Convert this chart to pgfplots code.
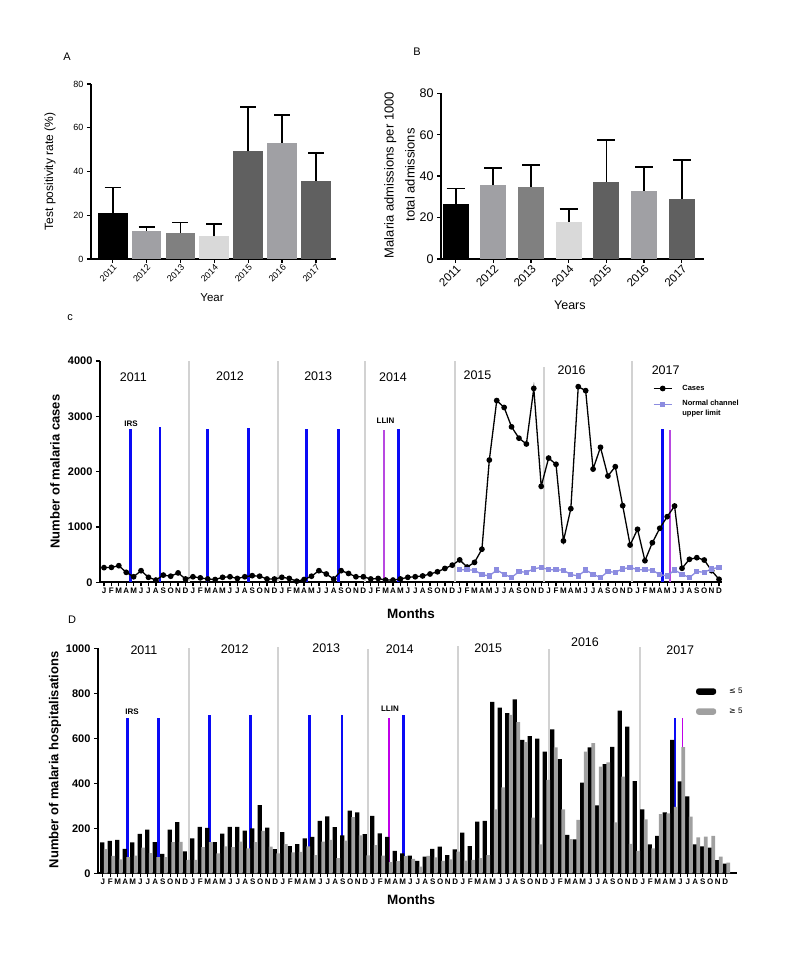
\documentclass[border=0pt]{standalone}
\usepackage{fontspec}
\setmainfont{Liberation Sans}
\newfontfamily\djv{DejaVu Sans}
\usepackage{pgfplots}
\pgfplotsset{compat=1.18}

\definecolor{gA}{HTML}{A0A0A4}
\definecolor{gB}{HTML}{808080}
\definecolor{gC}{HTML}{D9D9D9}
\definecolor{gD}{HTML}{606060}
\definecolor{sep}{HTML}{D2D2D2}
\definecolor{irs}{HTML}{0A0AF5}
\definecolor{llin}{HTML}{B848E0}
\definecolor{llinD}{HTML}{C000E8}
\definecolor{lav}{HTML}{8C8CE0}
\definecolor{hg}{HTML}{A0A0A0}

\pgfplotsset{
  gp/.style={
    scale only axis,
    anchor=south west,
    axis x line*=bottom, axis y line*=left,
    axis line style={line width=1.8pt, black},
    tick align=outside,
    major tick length=4pt,
    tick style={black, line width=1.3pt},
    /pgf/number format/assume math mode=true,
    /pgf/number format/1000 sep={},
    clip=false,
  },
  eb/.style={error bars/.cd, y dir=plus, y explicit,
    error bar style={line width=1.8pt, black},
    error mark options={rotate=90, mark size=#1, line width=1.8pt, black}},
  vbar/.style={ybar, bar shift=0pt, draw=none, fill=#1},
  sepl/.style={forget plot, sep, line width=1.8pt},
  irsl/.style={forget plot, irs, line width=2.8pt},
  llinl/.style={forget plot, llin, line width=1.8pt},
  lineleg/.style={legend image code/.code={\draw[mark repeat=2,mark phase=2,##1] plot coordinates {(0pt,0pt) (9pt,0pt) (18pt,0pt)}; \path (26pt,0pt);}},
}

\begin{document}
\begin{tikzpicture}
\path[use as bounding box] (0pt,0pt) rectangle (800pt,954pt);

\node[font=\fontsize{11}{12}\selectfont] at (67pt,897pt) {A};
\node[font=\fontsize{11}{12}\selectfont] at (417pt,902pt) {B};
\node[font=\fontsize{11}{12}\selectfont] at (70pt,636pt) {c};
\node[font=\fontsize{11}{12}\selectfont] at (72pt,334pt) {D};

% ---------------- Panel A
\begin{axis}[gp, at={(91pt,695pt)}, width=245pt, height=175pt,
  xmin=-0.64, xmax=6.59, ymin=0, ymax=80, ytick={0,20,40,60,80},
  xtick={0,...,6}, xticklabels={2011,2012,2013,2014,2015,2016,2017},
  xticklabel style={rotate=45, anchor=north east, font=\fontsize{9}{10}\selectfont, inner sep=0.5pt},
  yticklabel style={font=\fontsize{9}{10}\selectfont},
  ylabel={Test positivity rate (\%)},
  ylabel style={at={(axis description cs:-0.167,0.5)}, anchor=center, font=\fontsize{12}{13}\selectfont},
  xlabel={Year},
  xlabel style={at={(axis description cs:0.494,-0.223)}, anchor=center, font=\fontsize{11.5}{12}\selectfont},
  bar width=0.88]
\addplot[vbar=black, eb=8pt] coordinates {(0,20.8) +- (0,11.9)};
\addplot[vbar=gA, eb=8pt] coordinates {(1,12.8) +- (0,1.7)};
\addplot[vbar=gB, eb=8pt] coordinates {(2,11.8) +- (0,4.9)};
\addplot[vbar=gC, eb=8pt] coordinates {(3,10.3) +- (0,5.7)};
\addplot[vbar=gD, eb=8pt] coordinates {(4,49.2) +- (0,20.4)};
\addplot[vbar=gA, eb=8pt] coordinates {(5,53.1) +- (0,12.7)};
\addplot[vbar=gD, eb=8pt] coordinates {(6,35.7) +- (0,12.7)};
\end{axis}

% ---------------- Panel B
\begin{axis}[gp, at={(441pt,695pt)}, width=263pt, height=165.7pt,
  xmin=-0.39, xmax=6.59, ymin=0, ymax=80, ytick={0,20,40,60,80},
  xtick={0,...,6}, xticklabels={2011,2012,2013,2014,2015,2016,2017},
  xticklabel style={rotate=45, anchor=north east, font=\fontsize{11.5}{12}\selectfont, inner sep=0.5pt},
  yticklabel style={font=\fontsize{12.5}{13}\selectfont},
  ylabel={Malaria admissions per 1000\\total admissions},
  ylabel style={at={(axis description cs:-0.158,0.507)}, anchor=center, align=center, font=\fontsize{13}{21}\selectfont},
  xlabel={Years},
  xlabel style={at={(axis description cs:0.49,-0.278)}, anchor=center, font=\fontsize{12.5}{13}\selectfont},
  bar width=0.69]
\addplot[vbar=black, eb=9pt] coordinates {(0,26.7) +- (0,7.3)};
\addplot[vbar=gA, eb=9pt] coordinates {(1,35.6) +- (0,8.5)};
\addplot[vbar=gB, eb=9pt] coordinates {(2,34.9) +- (0,10.3)};
\addplot[vbar=gC, eb=9pt] coordinates {(3,18.0) +- (0,6.0)};
\addplot[vbar=gD, eb=9pt] coordinates {(4,37.2) +- (0,20.3)};
\addplot[vbar=gA, eb=9pt] coordinates {(5,33.0) +- (0,11.4)};
\addplot[vbar=gD, eb=9pt] coordinates {(6,29.1) +- (0,18.6)};
\end{axis}

% ---------------- Panel C
\begin{axis}[gp, at={(100pt,371.7pt)}, width=622pt, height=221.3pt,
  xmin=-0.54, xmax=83.4, ymin=0, ymax=4000, ytick={0,1000,2000,3000,4000},
  xtick={0,...,83},
  xticklabels={J,F,M,A,M,J,J,A,S,O,N,D,J,F,M,A,M,J,J,A,S,O,N,D,J,F,M,A,M,J,J,A,S,O,N,D,J,F,M,A,M,J,J,A,S,O,N,D,J,F,M,A,M,J,J,A,S,O,N,D,J,F,M,A,M,J,J,A,S,O,N,D,J,F,M,A,M,J,J,A,S,O,N,D},
  xticklabel style={font=\bfseries\fontsize{8}{9}\selectfont, inner sep=0.3pt, yshift=-1pt},
  yticklabel style={font=\bfseries\fontsize{11}{12}\selectfont},
  ylabel={\bfseries Number of malaria cases},
  ylabel style={at={(axis description cs:-0.0723,0.5)}, anchor=center, font=\fontsize{13}{14}\selectfont},
  xlabel={\bfseries Months},
  xlabel style={at={(axis description cs:0.5,-0.143)}, anchor=center, font=\fontsize{13.5}{14}\selectfont},
  legend style={draw=none, fill=none, at={(axis description cs:0.884,0.91)}, anchor=north west,
    font=\bfseries\fontsize{7.5}{10.5}\selectfont, row sep=2pt},
  legend cell align=left]
\addplot[sepl] coordinates {(11.5,0) (11.5,4000)};
\addplot[sepl] coordinates {(23.5,0) (23.5,4000)};
\addplot[sepl] coordinates {(35.2,0) (35.2,4000)};
\addplot[sepl] coordinates {(47.4,0) (47.4,4000)};
\addplot[sepl] coordinates {(59.4,0) (59.4,3900)};
\addplot[sepl] coordinates {(71.3,0) (71.3,4000)};
\addplot[irsl] coordinates {(3.6,0) (3.6,2770)};
\addplot[irsl] coordinates {(7.56,0) (7.56,2800)};
\addplot[irsl] coordinates {(14,0) (14,2770)};
\addplot[irsl] coordinates {(19.5,0) (19.5,2780)};
\addplot[irsl] coordinates {(27.35,0) (27.35,2770)};
\addplot[irsl] coordinates {(31.6,0) (31.6,2770)};
\addplot[llinl] coordinates {(37.8,0) (37.8,2745)};
\addplot[irsl] coordinates {(39.7,0) (39.7,2770)};
\addplot[irsl] coordinates {(75.4,0) (75.4,2765)};
\addplot[llinl] coordinates {(76.4,0) (76.4,2745)};
\addplot[black, line width=1.3pt, mark=*, mark size=2.2pt, lineleg] coordinates {
(0,265)(1,270)(2,300)(3,180)(4,100)(5,210)(6,90)(7,40)(8,130)(9,110)(10,170)(11,60)
(12,100)(13,80)(14,60)(15,50)(16,90)(17,100)(18,70)(19,100)(20,120)(21,110)(22,60)(23,60)
(24,90)(25,70)(26,20)(27,50)(28,110)(29,210)(30,150)(31,60)(32,210)(33,160)(34,100)(35,100)
(36,60)(37,70)(38,40)(39,40)(40,60)(41,90)(42,100)(43,115)(44,150)(45,190)(46,250)(47,310)
(48,405)(49,275)(50,360)(51,598)(52,2210)(53,3285)(54,3160)(55,2810)(56,2605)(57,2500)(58,3505)(59,1735)
(60,2245)(61,2133)(62,748)(63,1331)(64,3536)(65,3464)(66,2047)(67,2440)(68,1921)(69,2090)(70,1385)(71,674)
(72,958)(73,390)(74,716)(75,976)(76,1186)(77,1379)(78,253)(79,415)(80,445)(81,403)(82,210)(83,54)};
\addlegendentry{Cases}
\addplot[lav, line width=1.3pt, mark=square*, mark size=2pt, lineleg] coordinates {
(48,228)(49,228)(50,218)(51,140)(52,115)(53,222)(54,145)(55,87)(56,193)(57,183)(58,242)(59,270)
(60,228)(61,228)(62,218)(63,140)(64,115)(65,222)(66,145)(67,87)(68,193)(69,183)(70,242)(71,270)
(72,228)(73,228)(74,218)(75,140)(76,115)(77,222)(78,145)(79,87)(80,193)(81,183)(82,242)(83,270)};
\addlegendentry{\begin{tabular}{@{}l@{}}Normal channel\\upper limit\end{tabular}}
\node[font=\fontsize{12.5}{13}\selectfont] at (axis cs:3.95,3711) {2011};
\node[font=\fontsize{12.5}{13}\selectfont] at (axis cs:17,3720) {2012};
\node[font=\fontsize{12.5}{13}\selectfont] at (axis cs:28.9,3730) {2013};
\node[font=\fontsize{12.5}{13}\selectfont] at (axis cs:39,3711) {2014};
\node[font=\fontsize{12.5}{13}\selectfont] at (axis cs:50.4,3740) {2015};
\node[font=\fontsize{12.5}{13}\selectfont] at (axis cs:63.1,3830) {2016};
\node[font=\fontsize{12.5}{13}\selectfont] at (axis cs:75.8,3840) {2017};
\node[font=\bfseries\fontsize{8}{9}\selectfont] at (axis cs:3.65,2870) {IRS};
\node[font=\bfseries\fontsize{8}{9}\selectfont] at (axis cs:38,2920) {LLIN};
\end{axis}

% ---------------- Panel D
\begin{axis}[gp, at={(98pt,80.7pt)}, width=639pt, height=225pt,
  xmin=-0.63, xmax=84.57, ymin=0, ymax=1000, ytick={0,200,400,600,800,1000},
  xtick={0,...,83},
  xticklabels={J,F,M,A,M,J,J,A,S,O,N,D,J,F,M,A,M,J,J,A,S,O,N,D,J,F,M,A,M,J,J,A,S,O,N,D,J,F,M,A,M,J,J,A,S,O,N,D,J,F,M,A,M,J,J,A,S,O,N,D,J,F,M,A,M,J,J,A,S,O,N,D,J,F,M,A,M,J,J,A,S,O,N,D},
  xticklabel style={font=\bfseries\fontsize{8}{9}\selectfont, inner sep=0.3pt, yshift=-1pt},
  yticklabel style={font=\bfseries\fontsize{11}{12}\selectfont},
  ylabel={\bfseries Number of malaria hospitalisations},
  ylabel style={at={(axis description cs:-0.0673,0.504)}, anchor=center, font=\fontsize{13}{14}\selectfont},
  xlabel={\bfseries Months},
  xlabel style={at={(axis description cs:0.49,-0.119)}, anchor=center, font=\fontsize{13.5}{14}\selectfont},
  legend style={draw=none, fill=none, at={(axis description cs:0.931,0.842)}, anchor=north west,
    font=\fontsize{8}{9}\selectfont, row sep=9pt},
  legend cell align=left]
\addplot[sepl] coordinates {(11.5,0) (11.5,1000)};
\addplot[sepl] coordinates {(23.4,0) (23.4,1005)};
\addplot[sepl] coordinates {(35.4,0) (35.4,996)};
\addplot[sepl] coordinates {(47.4,0) (47.4,1012)};
\addplot[sepl] coordinates {(59.5,0) (59.5,996)};
\addplot[sepl] coordinates {(71.6,0) (71.6,1005)};
\addplot[irsl] coordinates {(3.3,0) (3.3,692)};
\addplot[irsl] coordinates {(7.4,0) (7.4,692)};
\addplot[irsl] coordinates {(14.2,0) (14.2,705)};
\addplot[irsl] coordinates {(19.7,0) (19.7,705)};
\addplot[irsl] coordinates {(27.6,0) (27.6,705)};
\addplot[irsl] coordinates {(31.9,0) (31.9,705)};
\addplot[forget plot, llinD, line width=1.8pt] coordinates {(38.2,0) (38.2,690)};
\addplot[irsl] coordinates {(40.1,0) (40.1,705)};
\addplot[irsl] coordinates {(76.3,0) (76.3,690)};
\addplot[forget plot, llinD, line width=1.8pt] coordinates {(77.3,0) (77.3,692)};
\addplot[ybar, bar width=0.55, bar shift=-0.07, fill=black, draw=none,
  legend image code/.code={\fill[black, rounded corners=2.5pt] (0pt,-3.2pt) rectangle (20pt,3.2pt); \path (31pt,0pt);}]
 coordinates {
(0,137)(1,144)(2,148)(3,108)(4,137)(5,175)(6,194)(7,139)(8,86)(9,194)(10,227)(11,97)
(12,155)(13,206)(14,202)(15,138)(16,176)(17,206)(18,206)(19,190)(20,200)(21,303)(22,203)(23,107)
(24,183)(25,121)(26,130)(27,155)(28,162)(29,233)(30,253)(31,205)(32,168)(33,279)(34,271)(35,174)
(36,255)(37,177)(38,162)(39,100)(40,88)(41,79)(42,55)(43,74)(44,108)(45,119)(46,81)(47,106)
(48,181)(49,121)(50,230)(51,233)(52,762)(53,736)(54,712)(55,773)(56,593)(57,610)(58,598)(59,541)
(60,640)(61,507)(62,171)(63,151)(64,403)(65,560)(66,302)(67,485)(68,562)(69,723)(70,652)(71,410)
(72,284)(73,129)(74,166)(75,271)(76,593)(77,409)(78,342)(79,129)(80,120)(81,114)(82,59)(83,43)};
\addlegendentry{{\djv ≤} 5}
\addplot[ybar, bar width=0.5, bar shift=0.4, fill=hg, draw=none,
  legend image code/.code={\fill[hg, rounded corners=2.5pt] (0pt,-3.2pt) rectangle (20pt,3.2pt); \path (31pt,0pt);}]
 coordinates {
(0,107)(1,77)(2,62)(3,72)(4,78)(5,114)(6,90)(7,72)(8,72)(9,139)(10,140)(11,60)
(12,60)(13,116)(14,139)(15,89)(16,120)(17,116)(18,141)(19,111)(20,139)(21,188)(22,118)(23,89)
(24,130)(25,93)(26,95)(27,120)(28,81)(29,141)(30,148)(31,67)(32,145)(33,250)(34,168)(35,80)
(36,125)(37,79)(38,50)(39,54)(40,76)(41,64)(42,30)(43,77)(44,71)(45,55)(46,62)(47,96)
(48,56)(49,60)(50,67)(51,81)(52,284)(53,382)(54,704)(55,672)(56,583)(57,247)(58,128)(59,415)
(60,560)(61,284)(62,152)(63,237)(64,541)(65,579)(66,474)(67,493)(68,226)(69,430)(70,131)(71,100)
(72,240)(73,111)(74,263)(75,266)(76,295)(77,561)(78,252)(79,160)(80,163)(81,166)(82,74)(83,47)};
\addlegendentry{{\djv ≥} 5}
\node[font=\fontsize{12.5}{13}\selectfont] at (axis cs:5.5,992) {2011};
\node[font=\fontsize{12.5}{13}\selectfont] at (axis cs:17.6,998) {2012};
\node[font=\fontsize{12.5}{13}\selectfont] at (axis cs:29.8,1002) {2013};
\node[font=\fontsize{12.5}{13}\selectfont] at (axis cs:39.6,998) {2014};
\node[font=\fontsize{12.5}{13}\selectfont] at (axis cs:51.4,1002) {2015};
\node[font=\fontsize{12.5}{13}\selectfont] at (axis cs:64.3,1025) {2016};
\node[font=\fontsize{12.5}{13}\selectfont] at (axis cs:77,990) {2017};
\node[font=\bfseries\fontsize{8}{9}\selectfont] at (axis cs:3.9,718) {IRS};
\node[font=\bfseries\fontsize{8}{9}\selectfont] at (axis cs:38.3,730) {LLIN};
\end{axis}
\end{tikzpicture}
\end{document}
